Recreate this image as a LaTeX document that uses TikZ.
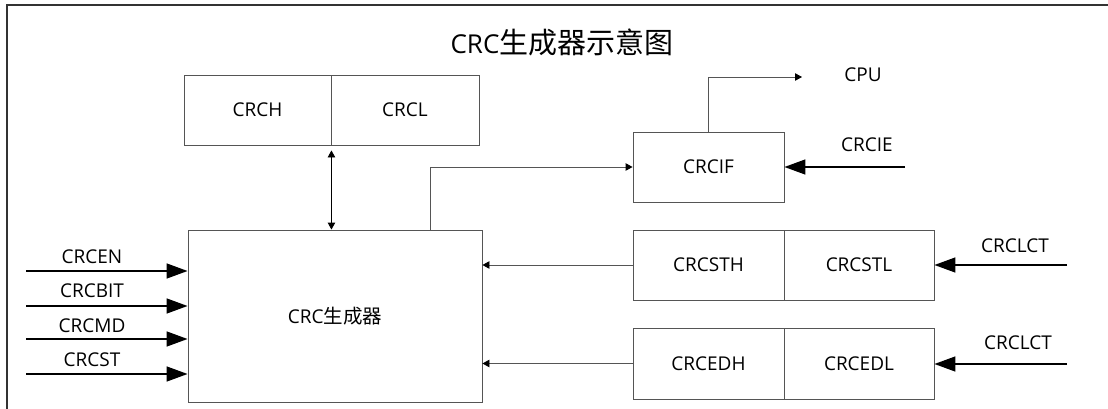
\documentclass[tikz,border=0pt]{standalone}
\usepackage{fontspec}
\setmainfont{Open Sans}
\newfontfamily\cjk{Noto Sans CJK SC}
\usetikzlibrary{arrows.meta}
\definecolor{boxline}{RGB}{85,85,85}
\tikzset{
  x=1pt, y=1pt,
  regbox/.style={draw=boxline, line width=0.9pt, minimum height=70pt, inner sep=0pt, font=\fontsize{19}{21}\selectfont},
  thin arrow/.style={draw=boxline, line width=0.9pt, -{Triangle[length=7pt,width=7.5pt,color=black]}},
  thin both/.style={draw=black, line width=0.9pt, {Triangle[length=7pt,width=7.5pt]}-{Triangle[length=7pt,width=7.5pt]}},
  big arrow/.style={draw=black, line width=1.5pt, -{Triangle[length=21pt,width=15pt]}},
  lbl/.style={font=\fontsize{19}{21}\selectfont, inner sep=0pt}
}
\begin{document}
\begin{tikzpicture}
\useasboundingbox (0,0) rectangle (1108,-409);
\fill[white] (0,0) rectangle (1108,-409);
% frame
\draw[line width=1.5pt, black!80] (7,-409) -- (7,-5) -- (1108,-5);
% title
\node[inner sep=0pt, font=\fontsize{26}{28}\selectfont] (title) at (562,-42) {CRC{\cjk\fontsize{29}{30}\selectfont 生成器示意图}};
% boxes
\node[regbox, minimum width=147pt] (crch) at (257.5,-110) {CRCH};
\node[regbox, minimum width=148pt] (crcl) at (405,-110) {CRCL};
\node[regbox, minimum width=294pt, minimum height=172pt] (gen) at (335,-316) {CRC{\cjk\fontsize{19.5}{21}\selectfont 生成器}};
\node[regbox, minimum width=151pt] (crcif) at (708.5,-167) {CRCIF};
\node[regbox, minimum width=151pt] (crcsth) at (708.5,-265) {CRCSTH};
\node[regbox, minimum width=150pt] (crcstl) at (859,-265) {CRCSTL};
\node[regbox, minimum width=151pt, minimum height=71pt] (crcedh) at (708.5,-363.5) {CRCEDH};
\node[regbox, minimum width=150pt, minimum height=71pt] (crcedl) at (859,-363.5) {CRCEDL};
% labels
\node[lbl] (cpu) at (863,-75) {CPU};
\node[lbl] (crcie) at (867,-145) {CRCIE};
\node[lbl] (lct1) at (1015,-246) {CRCLCT};
\node[lbl] (lct2) at (1018,-343) {CRCLCT};
\node[lbl] (en) at (92,-257) {CRCEN};
\node[lbl] (bit) at (92,-291) {CRCBIT};
\node[lbl] (md) at (92,-326) {CRCMD};
\node[lbl] (st) at (92,-360) {CRCST};
% free ends
\coordinate (cpuend) at (802,-77);
\coordinate (iestart) at (905,-167);
\coordinate (lct1s) at (1067,-265);
\coordinate (lct2s) at (1067,-364);
\coordinate (ens) at (26,-271);
\coordinate (bits) at (26,-306);
\coordinate (mds) at (26,-339);
\coordinate (sts) at (26,-374);
% connectors
\draw[thin both] ([yshift=-5pt]crch.south east) -- (crch.south east |- gen.north);
\draw[thin arrow] ([xshift=95pt]gen.north) |- (crcif.west);
\draw[thin arrow] (crcif.north) |- (cpuend);
\draw[big arrow] (iestart) -- (crcif.east);
\draw[thin arrow] (crcsth.west) -- (crcsth.west -| gen.east);
\draw[thin arrow] (crcedh.west) -- (crcedh.west -| gen.east);
\draw[big arrow] (lct1s) -- (crcstl.east);
\draw[big arrow] (lct2s) -- (crcedl.east |- lct2s);
\draw[big arrow] (ens) -- (ens -| gen.west);
\draw[big arrow] (bits) -- (bits -| gen.west);
\draw[big arrow] (mds) -- (mds -| gen.west);
\draw[big arrow] (sts) -- (sts -| gen.west);
\end{tikzpicture}
\end{document}
